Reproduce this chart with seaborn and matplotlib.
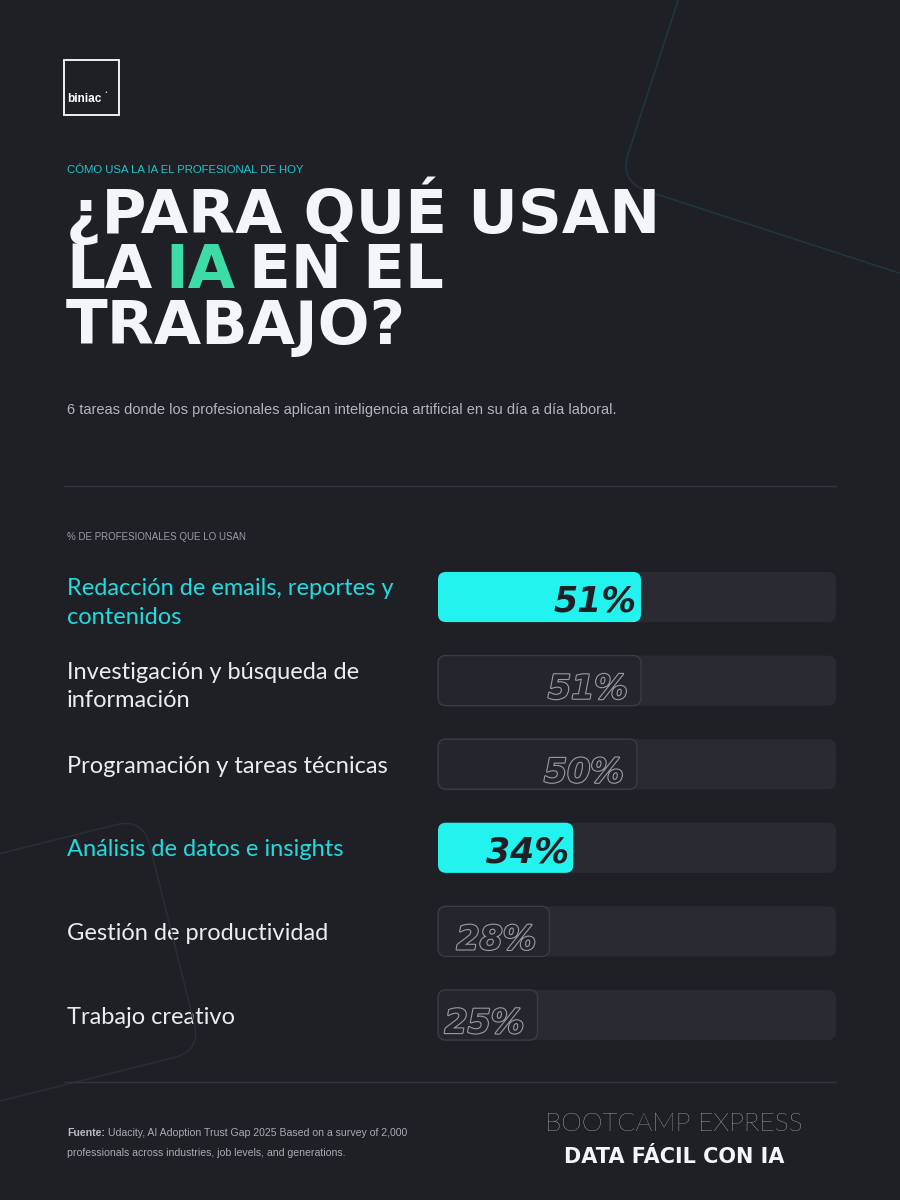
import textwrap
import matplotlib
matplotlib.use("Agg")
import matplotlib.pyplot as plt
import matplotlib.patheffects as pe
from matplotlib.patches import FancyBboxPatch, Rectangle
from matplotlib.lines import Line2D
from matplotlib.transforms import Affine2D
import pandas as pd
import seaborn as sns

# data
tasks = [
    "Redacción de emails, reportes y contenidos",
    "Investigación y búsqueda de información",
    "Programación y tareas técnicas",
    "Análisis de datos e insights",
    "Gestión de productividad",
    "Trabajo creativo",
]
share = [51, 51, 50, 34, 28, 25]
highlight = [True, False, False, True, False, False]

# colours
BG = "#1f2026"
TRACK = "#292a32"
CYAN = "#22f3ef"
CYAN_TXT = "#22dbe0"
DARK_BAR = "#25262d"
DARK_EDGE = "#3b3c44"
WHITE = "#f4f5f8"
GREEN = "#3ddca7"
GRAY = "#a9abb4"

W, H = 900, 1200


def fx(x):
    return x / W


def fy(y):
    return 1 - y / H


sns.set_theme(style="dark", rc={"figure.facecolor": BG, "axes.facecolor": BG})
plt.rcParams["font.family"] = ["DejaVu Sans"]

fig = plt.figure(figsize=(9, 12), dpi=100)
fig.patch.set_facecolor(BG)
renderer = fig.canvas.get_renderer()

# pixel space with y pointing down
pxT = Affine2D().scale(1 / W, -1 / H).translate(0, 1) + fig.transFigure

# decorative rotated squares
deco1 = FancyBboxPatch((0, -700), 700, 700, boxstyle="round,pad=0,rounding_size=30",
                       transform=Affine2D().rotate_deg(18).translate(619, 182) + pxT,
                       fill=False, edgecolor="#1c3840", lw=1.1)
deco2 = FancyBboxPatch((-240, 0), 240, 240, boxstyle="round,pad=0,rounding_size=28",
                       transform=Affine2D().rotate_deg(-14).translate(143, 818) + pxT,
                       fill=False, edgecolor="#262f35", lw=1.1)
fig.add_artist(deco1)
fig.add_artist(deco2)

# logo
fig.add_artist(Rectangle((fx(64), fy(115)), 55 / W, 55 / H, transform=fig.transFigure,
                         fill=False, edgecolor="white", lw=1.3))
fig.text(fx(67), fy(102), "biniac", color="white", fontsize=8.5,
         fontweight="bold", va="baseline", family="Liberation Sans")
fig.text(fx(104), fy(94), "•", color="white", fontsize=3.5, va="baseline")

# header
fig.text(fx(67), fy(170), "CÓMO USA LA IA EL PROFESIONAL DE HOY", color="#1fc4cb",
         fontsize=8.2, va="center", family="Liberation Sans")

title_kw = dict(color=WHITE, fontsize=44, fontweight="bold", va="baseline")
fig.text(fx(66), fy(233), "¿PARA QUÉ USAN", **title_kw)
gap = 0.22 * 44 / 0.72 / W
t1 = fig.text(fx(66), fy(288), "LA", **title_kw)
x = t1.get_window_extent(renderer).x1 / W + gap
t2 = fig.text(x, fy(288), "IA", **{**title_kw, "color": GREEN})
x = t2.get_window_extent(renderer).x1 / W + gap
fig.text(x, fy(288), "EN EL", **title_kw)
fig.text(fx(66), fy(344), "TRABAJO?", **title_kw)

fig.text(fx(67), fy(410),
         "6 tareas donde los profesionales aplican inteligencia artificial en su día a día laboral.",
         color="#b3b5be", fontsize=10.5, va="center", family="Liberation Sans")

for yy in (486, 1082):
    fig.add_artist(Line2D([fx(64), fx(836)], [fy(yy)] * 2, color="#32333a", lw=1,
                          transform=fig.transFigure))

fig.text(fx(67), fy(537), "% DE PROFESIONALES QUE LO USAN", color="#9a9ca5",
         fontsize=7, va="center", family="Liberation Sans")

# bars
df = pd.DataFrame({"task": tasks, "share": share})
colors = [CYAN if h else DARK_BAR for h in highlight]

ax = fig.add_axes([fx(438), fy(1056.8), 398 / W, 501.6 / H])
sns.barplot(data=df, x="share", y="task", hue="task", palette=colors, legend=False,
            width=0.6, saturation=1, ax=ax)
ax.set_xlim(0, 100)
ax.patch.set_alpha(0)
for s in ax.spines.values():
    s.set_visible(False)
ax.set_xticks([])
ax.set_xlabel("")
ax.set_ylabel("")

# rounded bars + background track
bbox = ax.get_window_extent(renderer)
x0, x1 = ax.get_xlim()
y0, y1 = ax.get_ylim()
px_x = bbox.width / (x1 - x0)
px_y = bbox.height / abs(y1 - y0)
aspect = px_x / px_y
r = 8 / px_x

bars = list(ax.patches)
for p, hl in zip(bars, highlight):
    bx, by, bw, bh = p.get_x(), p.get_y(), p.get_width(), p.get_height()
    fc = p.get_facecolor()
    p.remove()
    ax.add_patch(FancyBboxPatch((0, by), x1, bh, boxstyle=f"round,pad=0,rounding_size={r}",
                                mutation_aspect=aspect, facecolor=TRACK, edgecolor="none",
                                zorder=1, clip_on=False))
    ax.add_patch(FancyBboxPatch((bx, by), bw, bh, boxstyle=f"round,pad=0,rounding_size={r}",
                                mutation_aspect=aspect, facecolor=fc,
                                edgecolor="none" if hl else DARK_EDGE, lw=1,
                                zorder=2, clip_on=False))

# value labels
for i, (v, hl) in enumerate(zip(share, highlight)):
    if hl:
        ax.annotate(f"{v}%", xy=(v, i), xytext=(-3, -10.8), textcoords="offset points",
                    ha="right", va="baseline", fontsize=25, fontweight="bold",
                    fontstyle="italic", color=BG, zorder=3)
    else:
        ax.annotate(f"{v}%", xy=(v, i), xytext=(-9.4, -13), textcoords="offset points",
                    ha="right", va="baseline", fontsize=24, fontweight="bold",
                    fontstyle="italic", color=DARK_BAR, zorder=3,
                    path_effects=[pe.withStroke(linewidth=1.6, foreground="#9c9da4")])

# category labels on the left
ax.set_yticks(range(len(tasks)))
ax.set_yticklabels([textwrap.fill(t, 31) for t in tasks])
ax.tick_params(axis="y", length=0, pad=(438 - 67) * 0.72)
for lbl, hl in zip(ax.get_yticklabels(), highlight):
    lbl.set_ha("left")
    lbl.set_color(CYAN_TXT if hl else "#ececf0")
    lbl.set_family(["Lato", "DejaVu Sans"])
    lbl.set_fontweight("normal")
    lbl.set_fontsize(17)
    lbl.set_linespacing(1.45)

# footer
f1 = fig.text(fx(67), fy(1133), "Fuente:", color="#b9bbc3", fontsize=7.6, fontweight="bold",
              va="center", family="Liberation Sans")
fig.text(f1.get_window_extent(renderer).x1 / W + 3 / W, fy(1133),
         "Udacity, AI Adoption Trust Gap 2025 Based on a survey of 2,000",
         color=GRAY, fontsize=7.6, va="center", family="Liberation Sans")
fig.text(fx(67), fy(1153), "professionals across industries, job levels, and generations.",
         color=GRAY, fontsize=7.6, va="center", family="Liberation Sans")

fig.text(fx(674), fy(1124), "BOOTCAMP EXPRESS", color=WHITE, fontsize=19, ha="center",
         va="center", family=["Lato", "DejaVu Sans"], fontweight="light")
fig.text(fx(674), fy(1157), "DATA FÁCIL CON IA", color=WHITE, fontsize=15, ha="center",
         va="center", fontweight="bold")

fig.savefig("out.png", dpi=100, facecolor=BG)
